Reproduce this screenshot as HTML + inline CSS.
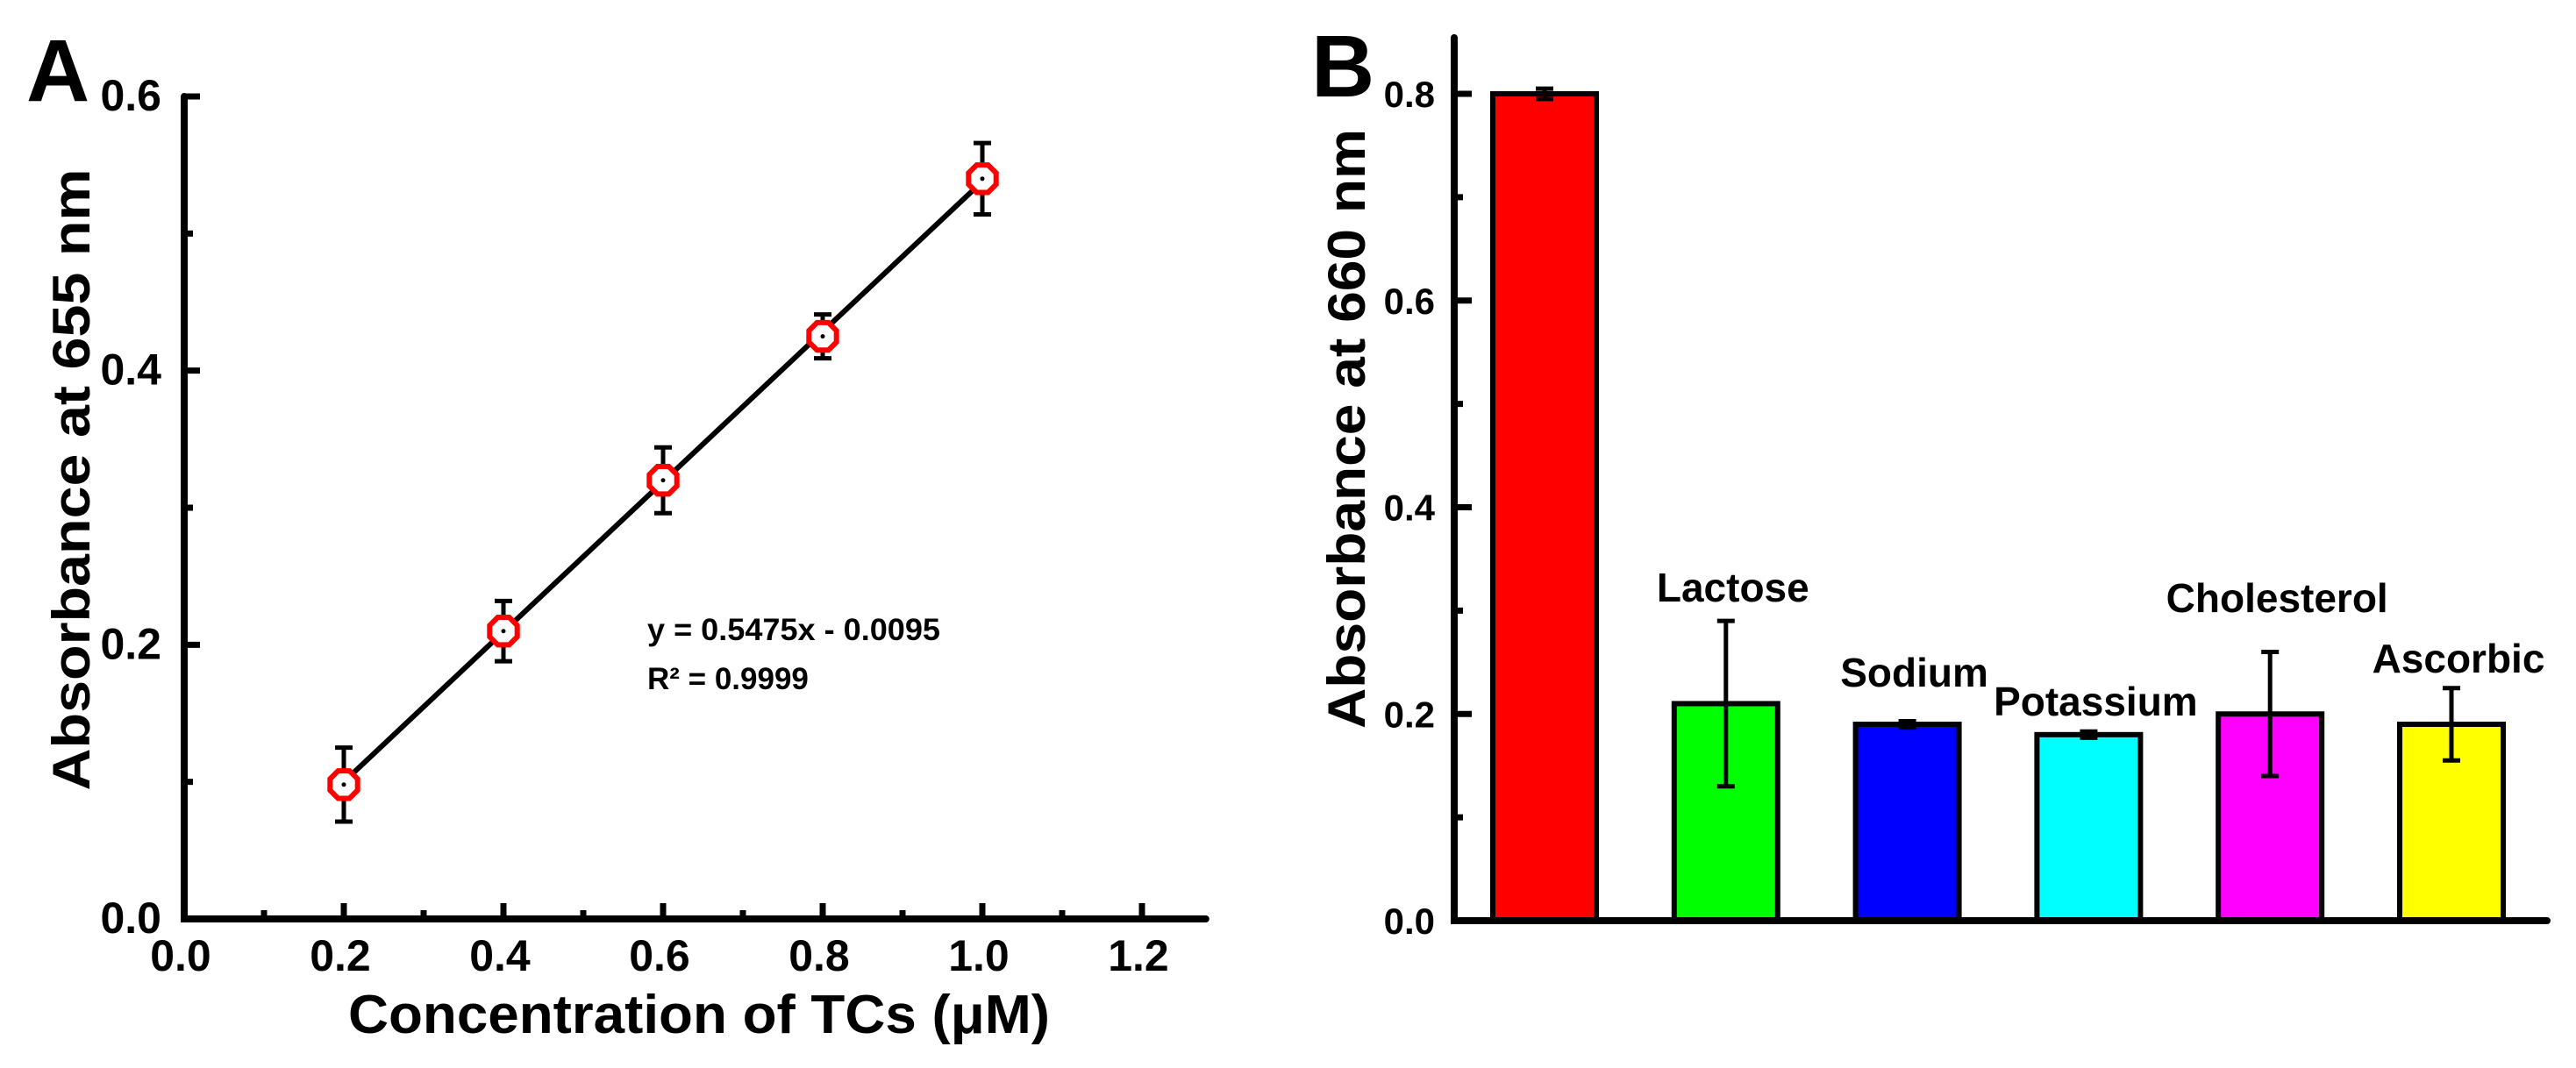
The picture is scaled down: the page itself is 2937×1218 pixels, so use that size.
<!DOCTYPE html>
<html><head><meta charset="utf-8"><style>
html,body{margin:0;padding:0;background:#fff;}
svg{display:block;font-family:"Liberation Sans",Arial,sans-serif;font-weight:bold;}
</style></head><body>
<svg id="fig" width="2937" height="1218" viewBox="0 0 2937 1218" xmlns="http://www.w3.org/2000/svg">
<g id="pa"></g>
<g id="pb"></g>
</svg>
<script>
// Panel A data
const aX = [0.2, 0.4, 0.6, 0.8, 1.0];
const aY = [0.098, 0.21, 0.32, 0.425, 0.54];
const aErr = [0.027, 0.022, 0.024, 0.016, 0.026];
const aSlope = 0.5475, aIntercept = -0.0095;
const aXTicks = ["0.0","0.2","0.4","0.6","0.8","1.0","1.2"];
const aYTicks = ["0.0","0.2","0.4","0.6"];
// Panel B data
const bCats = ["Control","Lactose","Sodium","Potassium","Cholesterol","Ascorbic"];
const bVals = [0.80, 0.21, 0.19, 0.18, 0.20, 0.19];
const bErr = [0.005, 0.08, 0.003, 0.003, 0.06, 0.035];
const bColors = ["#ff0000","#00ff00","#0000ff","#00ffff","#ff00ff","#ffff00"];
const bYTicks = ["0.0","0.2","0.4","0.6","0.8"];

const NS="http://www.w3.org/2000/svg";
function mk(parent,tag,attrs,text){const e=document.createElementNS(NS,tag);for(const k in attrs)e.setAttribute(k,attrs[k]);if(text!==undefined)e.textContent=text;parent.appendChild(e);return e;}

// ---- Panel A ----
const pa=document.getElementById('pa');
const ax=v=>210+v*910, ay=v=>1048-v*1563.3;
let t=mk(pa,'text',{x:30,y:115,'font-size':100},'A');


let l=mk(pa,'path',{d:`M${ax(0)},${ay(0.6)} V${ay(0)} H${ax(1.28)}`,stroke:'#000','stroke-width':8,fill:'none','stroke-linecap':'round'});


for(let i=1;i<=12;i++){const x=ax(i/10);const len=i%2==0?18:10;
 const tk=mk(pa,'line',{x1:x,y1:ay(0),x2:x,y2:ay(0)-len,stroke:'#000','stroke-width':7});
 
 }
for(let i=1;i<=6;i++){const y=ay(i/10);const len=i%2==0?18:10;
 const tk=mk(pa,'line',{x1:ax(0),y1:y,x2:ax(0)+len,y2:y,stroke:'#000','stroke-width':7});
 
 }
aXTicks.forEach((s,i)=>{const e=mk(pa,'text',{x:ax(i*0.2)-4,y:1107,'font-size':50,'text-anchor':'middle'},s);
 
 });
aYTicks.forEach((s,i)=>{const e=mk(pa,'text',{x:184,y:ay(i*0.2)+16,'font-size':50,'text-anchor':'end'},s);
 
 });
t=mk(pa,'text',{x:797,y:1178,'font-size':62,'text-anchor':'middle',textLength:800,lengthAdjust:'spacingAndGlyphs'},'Concentration of TCs (\u03bcM)');


t=mk(pa,'text',{x:0,y:0,'font-size':60,'text-anchor':'middle',textLength:709,lengthAdjust:'spacingAndGlyphs',transform:'translate(102,547) rotate(-90)'},'Absorbance at 655 nm');


l=mk(pa,'line',{x1:ax(0.2),y1:ay(aSlope*0.2+aIntercept),x2:ax(1.0),y2:ay(aSlope*1.0+aIntercept),stroke:'#000','stroke-width':6});


aX.forEach((xv,i)=>{const x=ax(xv),y=ay(aY[i]),yt=ay(aY[i]+aErr[i]),yb=ay(aY[i]-aErr[i]);
 const g=mk(pa,'g',{});
 
 
 mk(g,'path',{d:`M${x},${yt} V${yb} M${x-10},${yt} H${x+10} M${x-10},${yb} H${x+10}`,stroke:'#000','stroke-width':5,fill:'none'});
 let pts=[];for(let k=0;k<8;k++){const a=Math.PI/8+k*Math.PI/4;pts.push((x+17*Math.cos(a)).toFixed(1)+','+(y+17*Math.sin(a)).toFixed(1));}
 mk(g,'polygon',{points:pts.join(' '),fill:'#fff',stroke:'#ff0000','stroke-width':6});
 mk(g,'circle',{cx:x,cy:y,r:2.5,fill:'#000'});
});
t=mk(pa,'text',{x:738,y:730,'font-size':35,textLength:334,lengthAdjust:'spacingAndGlyphs'},'y = 0.5475x - 0.0095');


t=mk(pa,'text',{x:738,y:786,'font-size':35},'R\u00b2 = 0.9999');



// ---- Panel B ----
const pb=document.getElementById('pb');
const by=v=>1050-v*1178.75, bx=i=>1761+i*206.8;
t=mk(pb,'text',{x:1495,y:110,'font-size':100},'B');


bCats.forEach((c,i)=>{const x=bx(i),w=118,y=by(bVals[i]);
 const r=mk(pb,'rect',{x:x-w/2,y:y,width:w,height:by(0)-y,fill:bColors[i],stroke:'#000','stroke-width':6});
 
 
 const yt=by(bVals[i]+bErr[i]),yb=by(bVals[i]-bErr[i]);
 const e=mk(pb,'path',{d:`M${x},${yt} V${yb} M${x-10},${yt} H${x+10} M${x-10},${yb} H${x+10}`,stroke:'#000','stroke-width':5,fill:'none'});
 
 
});
const bLabelY=[0,669,766,799,681,750];
bCats.forEach((c,i)=>{if(i===0)return;
 const e=mk(pb,'text',{x:bx(i)+8,y:bLabelY[i]+17,'font-size':46,'text-anchor':'middle'},c);
 
 });
l=mk(pb,'path',{d:`M1658,43 V${by(0)} H2904`,stroke:'#000','stroke-width':8,fill:'none','stroke-linecap':'round'});


for(let i=1;i<=8;i++){const y=by(i/10);const len=i%2==0?20:10;
 const tk=mk(pb,'line',{x1:1658,y1:y,x2:1658+len,y2:y,stroke:'#000','stroke-width':7});
 
 }
bYTicks.forEach((s,i)=>{const e=mk(pb,'text',{x:1636,y:by(i*0.2)+15,'font-size':42,'text-anchor':'end'},s);
 
 });
t=mk(pb,'text',{x:0,y:0,'font-size':60,'text-anchor':'middle',textLength:684,lengthAdjust:'spacingAndGlyphs',transform:'translate(1556,489) rotate(-90)'},'Absorbance at 660 nm');


</script>
</body></html>
